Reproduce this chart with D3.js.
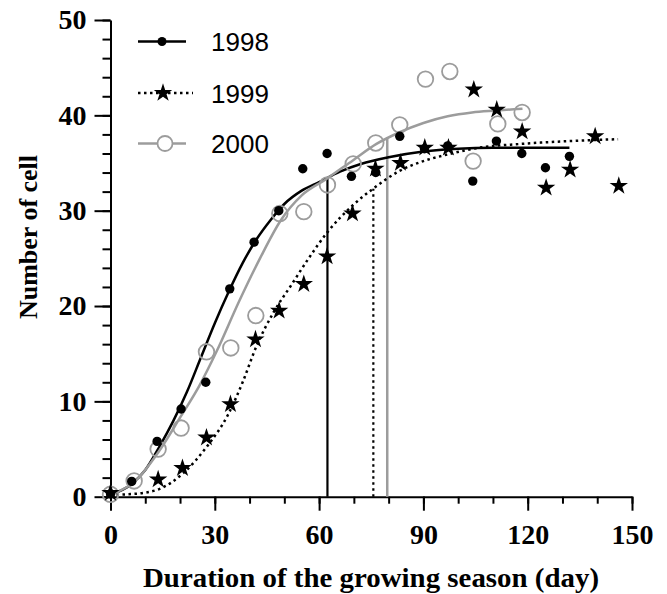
<!DOCTYPE html>
<html>
<head>
<meta charset="utf-8">
<script src="https://cdn.jsdelivr.net/npm/d3@7"></script>
<style>
  body { margin: 0; background: #fff; }
  svg { display: block; }
</style>
</head>
<body>
<script>
const obs1998 = [[0,0.3],[6.1,1.6],[13.4,5.8],[20.3,9.2],[27.4,12.0],[34.3,21.8],[41.3,26.7],[48.4,30.0],
  [55.3,34.4],[62.3,36.0],[69.3,33.6],[76.3,34.0],[83.2,37.8],[90.3,36.5],[97,36.8],[104.2,33.1],
  [111,37.3],[118.3,36.0],[125.1,34.5],[132,35.7]];
const obs1999 = [[0,0.4],[13.7,1.8],[20.7,3.0],[27.6,6.2],[34.5,9.7],[41.7,16.5],[48.5,19.5],[55.6,22.3],
  [62.3,25.2],[69.6,29.7],[76.2,34.4],[83.4,35.0],[90.4,36.6],[97.2,36.6],[104.5,42.7],[111.1,40.6],
  [118.4,38.3],[125.3,32.4],[132.2,34.3],[139.4,37.8],[146.2,32.6]];
const obs2000 = [[0,0.25],[6.8,1.65],[13.7,5.0],[20.3,7.2],[27.6,15.2],[34.6,15.6],[41.8,19.0],[48.7,29.7],
  [55.6,29.9],[62.4,32.7],[69.8,34.9],[76.3,37.1],[83.2,39.0],[90.6,43.8],[97.6,44.6],[104.3,35.2],
  [111.4,39.1],[118.4,40.3]];

// Fitted curves
const fit1998 = [[0,0.2],[6,1.3],[10,2.8],[14,5.2],[18,7.9],[22,11.0],[26,14.6],[30,18.2],[34,21.5],
  [38,24.5],[42,27.0],[46,29.0],[50,30.7],[55,32.1],[60,33.0],[66,34.1],[72,34.9],[80,35.6],
  [90,36.2],[100,36.5],[110,36.6],[120,36.6],[132,36.6]];
const fit1999 = [[0,0.2],[7,0.3],[14,0.8],[21,2.5],[27.6,5.2],[33.8,8.6],[38,12.0],[42,15.8],[47,19.4],
  [52,22.2],[57,25.0],[62.3,27.7],[69.8,30.6],[75.5,32.3],[83.3,34.2],[90,35.2],[97,35.9],
  [106,36.6],[118,37.0],[132,37.3],[146,37.5]];
const fit2000 = [[0,0.2],[7,1.6],[14,4.8],[20,8.3],[25.5,11.6],[30.6,15.3],[37,20.5],[43,25.0],[49,29.0],
  [55,31.6],[62,33.3],[69.8,35.3],[76.5,37.0],[83,38.2],[90,39.2],[97,39.9],[104,40.3],[111,40.5],
  [118.5,40.7]];

// Vertical markers [day, count at top]
const markers = [
  { year: "1998", day: 62.4, top: 33.4 },
  { year: "1999", day: 75.6, top: 32.3 },
  { year: "2000", day: 79.6, top: 37.7 }
];

const years = ["1998", "1999", "2000"];
const xMajor = [0, 30, 60, 90, 120, 150];
const yMajor = [0, 10, 20, 30, 40, 50];

const W = 667, H = 594;
const gray = "#9c9c9c";

const svg = d3.select("body").append("svg")
  .attr("width", W)
  .attr("height", H);

const x = d3.scaleLinear().domain([0, 150]).range([110.5, 632]);
const y = d3.scaleLinear().domain([0, 50]).range([496.7, 20]);

// styles per series
const style = {
  "1998": { stroke: "#000", dash: null },
  "1999": { stroke: "#000", dash: "2.5,3.5" },
  "2000": { stroke: gray, dash: null }
};

// Axes: minor ticks first, then majors with labels
const serif = "'Liberation Serif', 'Times New Roman', serif";

svg.append("g")
  .attr("transform", `translate(0,${y(0)})`)
  .call(d3.axisBottom(x).tickValues(d3.range(0, 151, 10)).tickSize(7).tickFormat(""))
  .call(g => g.select(".domain").remove())
  .call(g => g.selectAll("line").attr("stroke-width", 2));

svg.append("g")
  .attr("transform", `translate(0,${y(0)})`)
  .call(d3.axisBottom(x).tickValues(xMajor).tickSize(14).tickSizeOuter(0).tickPadding(13))
  .call(g => g.select(".domain").attr("stroke-width", 2))
  .call(g => g.selectAll("line").attr("stroke-width", 2))
  .call(g => g.selectAll("text")
    .style("font-family", serif).style("font-weight", "bold").style("font-size", "28px").attr("fill", "#000"));

svg.append("g")
  .attr("transform", `translate(${x(0)},0)`)
  .call(d3.axisLeft(y).tickValues(d3.range(0, 51, 2)).tickSize(8).tickFormat(""))
  .call(g => g.select(".domain").remove())
  .call(g => g.selectAll("line").attr("stroke-width", 2));

svg.append("g")
  .attr("transform", `translate(${x(0)},0)`)
  .call(d3.axisLeft(y).tickValues(yMajor).tickSize(16).tickSizeOuter(0).tickPadding(8))
  .call(g => g.select(".domain").attr("stroke-width", 2))
  .call(g => g.selectAll("line").attr("stroke-width", 2))
  .call(g => g.selectAll("text")
    .style("font-family", serif).style("font-weight", "bold").style("font-size", "28px").attr("fill", "#000"));

// Axis titles
svg.append("text")
  .attr("x", 371)
  .attr("y", 587)
  .attr("text-anchor", "middle")
  .attr("textLength", 456)
  .attr("lengthAdjust", "spacingAndGlyphs")
  .style("font-family", serif)
  .style("font-weight", "bold")
  .style("font-size", "27px")
  .text("Duration of the growing season (day)");

svg.append("text")
  .attr("transform", "translate(37,237) rotate(-90)")
  .attr("text-anchor", "middle")
  .style("font-family", serif)
  .style("font-weight", "bold")
  .style("font-size", "26px")
  .text("Number of cell");

// Vertical markers
svg.selectAll(".marker")
  .data(markers)
  .enter()
  .append("line")
  .attr("x1", d => x(d.day))
  .attr("x2", d => x(d.day))
  .attr("y1", y(0))
  .attr("y2", d => y(d.top))
  .attr("stroke", d => style[d.year].stroke)
  .attr("stroke-width", d => d.year === "2000" ? 2.5 : 2.2)
  .attr("stroke-dasharray", d => style[d.year].dash);

// Fitted curves
const line = d3.line()
  .x(d => x(d[0]))
  .y(d => y(d[1]))
  .curve(d3.curveMonotoneX);

const fits = { "1998": fit1998, "1999": fit1999, "2000": fit2000 };
years.forEach(yr => {
  svg.append("path")
    .datum(fits[yr])
    .attr("d", line)
    .attr("fill", "none")
    .attr("stroke", style[yr].stroke)
    .attr("stroke-width", 2.5)
    .attr("stroke-dasharray", style[yr].dash);
});

// Points
const star = d3.symbol().type(d3.symbolStar).size(105);

svg.selectAll(".p2000")
  .data(obs2000)
  .enter()
  .append("circle")
  .attr("cx", d => x(d[0]))
  .attr("cy", d => y(d[1]))
  .attr("r", 7.8)
  .attr("fill", "none")
  .attr("stroke", gray)
  .attr("stroke-width", 1.8);

svg.selectAll(".p1998")
  .data(obs1998)
  .enter()
  .append("circle")
  .attr("cx", d => x(d[0]))
  .attr("cy", d => y(d[1]))
  .attr("r", 4.7)
  .attr("fill", "#000");

svg.selectAll(".p1999")
  .data(obs1999)
  .enter()
  .append("path")
  .attr("transform", d => `translate(${x(d[0])},${y(d[1])})`)
  .attr("d", star)
  .attr("fill", "#000");

// Legend
const legendY = [41.5, 93, 143.5];
const legend = svg.append("g");
years.forEach((yr, i) => {
  const ly = legendY[i];
  const x2 = yr === "1999" ? 193 : 186;
  legend.append("line")
    .attr("x1", 138).attr("x2", x2)
    .attr("y1", ly).attr("y2", ly)
    .attr("stroke", style[yr].stroke)
    .attr("stroke-width", 2.5)
    .attr("stroke-dasharray", style[yr].dash);
  if (yr === "1998") {
    legend.append("circle").attr("cx", 162).attr("cy", ly).attr("r", 4.5).attr("fill", "#000");
  } else if (yr === "1999") {
    legend.append("path").attr("transform", `translate(163,${ly})`).attr("d", star).attr("fill", "#000");
  } else {
    legend.append("circle").attr("cx", 165).attr("cy", ly).attr("r", 7.5)
      .attr("fill", "#fff").attr("stroke", gray).attr("stroke-width", 1.8);
  }
  legend.append("text")
    .attr("x", 211)
    .attr("y", ly + 9.5)
    .style("font-family", "'Liberation Sans', Arial, sans-serif")
    .style("font-size", "26px")
    .text(yr);
});
</script>
</body>
</html>
